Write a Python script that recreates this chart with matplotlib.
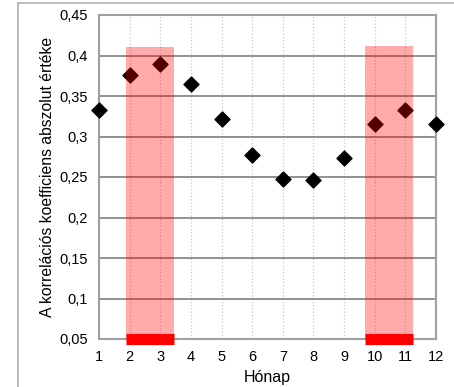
import matplotlib.pyplot as plt
from matplotlib.lines import Line2D
from matplotlib.ticker import FuncFormatter

plt.rcParams['font.family'] = ['Liberation Sans', 'DejaVu Sans']

# adatok
honapok = [1, 2, 3, 4, 5, 6, 7, 8, 9, 10, 11, 12]
korrelacio = [0.333, 0.376, 0.389, 0.365, 0.321, 0.277, 0.248, 0.246, 0.274, 0.315, 0.333, 0.316]
# kiemelt idoszakok (kezdet, veg, magassag)
savok_kezdet = [1.88, 9.68]
savok_veg = [3.45, 11.25]
savok_teteje = [0.411, 0.412]

fig = plt.figure(figsize=(4.54, 3.87), dpi=100)
ax = fig.add_axes([99 / 454, 1 - 339 / 387, 337 / 454, 324 / 387])

# keret a diagram korul
fig.add_artist(Line2D([18 / 454, 18 / 454], [0, 1 - 3 / 387], transform=fig.transFigure,
                      color='#b0b0b0', lw=1.2))
fig.add_artist(Line2D([18 / 454, 1], [1 - 3 / 387, 1 - 3 / 387], transform=fig.transFigure,
                      color='#b0b0b0', lw=1.2))

ax.scatter(honapok, korrelacio, marker='D', s=58, color='black', zorder=3, clip_on=False)

for k, v, t in zip(savok_kezdet, savok_veg, savok_teteje):
    ax.fill_between([k, v], 0.05, t, color='#ff0000', alpha=0.33, lw=0, zorder=4)
    ax.plot([k, v], [0.05, 0.05], color='#ff0000', lw=8, solid_capstyle='butt',
            zorder=5, clip_on=False)

ax.set_xlim(1, 12)
ax.set_ylim(0.05, 0.45)
ax.set_xticks(honapok)
ax.set_yticks([0.05 + 0.05 * i for i in range(9)])
ax.yaxis.set_major_formatter(FuncFormatter(lambda v, p: ('%.2f' % v).rstrip('0').replace('.', ',')))

ax.grid(axis='y', color='#7f7f7f', lw=1.2)
ax.grid(axis='x', color='#c8c8c8', lw=0.9, ls=':')
ax.set_axisbelow(True)
for s in ax.spines.values():
    s.set_color('#a0a0a0')
    s.set_linewidth(1.5)
ax.tick_params(length=0, labelsize=10.5, pad=8)

ax.set_xlabel('Hónap', fontsize=11.5, labelpad=4)
ax.set_ylabel('A korrelációs koefficiens abszolut értéke', fontsize=11.3, labelpad=3)

fig.savefig('out.png', dpi=100)
